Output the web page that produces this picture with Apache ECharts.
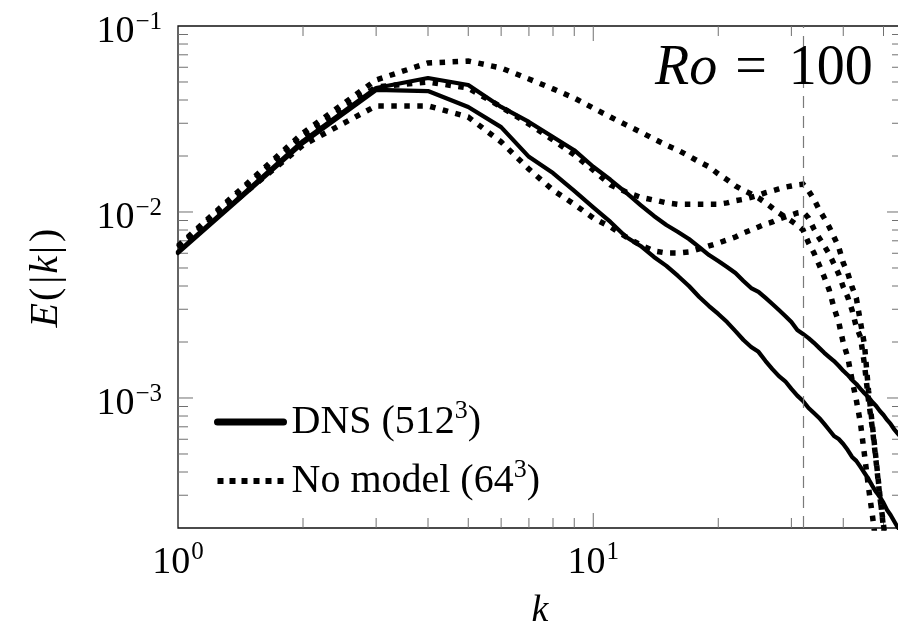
<!DOCTYPE html>
<html>
<head>
<meta charset="utf-8">
<script src="https://cdn.jsdelivr.net/npm/echarts@6/dist/echarts.min.js"></script>
<style>
  html, body { margin: 0; padding: 0; background: #ffffff; }
  #chart { width: 898px; height: 630px; }
</style>
</head>
<body>
<div id="chart"></div>
<script>
// Energy spectra E(|k|), one value per integer wavenumber k = 1, 2, 3, ...
const dnsA = [
  0.00610, 0.0241, 0.0464, 0.0525, 0.0482, 0.0367, 0.0305, 0.0253, 0.0215, 0.0175,
  0.0149, 0.0127, 0.0109, 0.00952, 0.00851, 0.00781, 0.00716, 0.00648, 0.00587, 0.00545,
  0.00506, 0.00470, 0.00426, 0.00390, 0.00372, 0.00345, 0.00320, 0.00297, 0.00276, 0.00256,
  0.00232, 0.00221, 0.00210, 0.00198, 0.00186, 0.00175, 0.00166, 0.00158, 0.00149, 0.00140,
  0.00133, 0.00125, 0.00119, 0.00112, 0.00106, 0.00101, 0.000952, 0.000906, 0.000851, 0.000810,
  0.000762, 0.000725, 0.000681, 0.000648, 0.000617
];
const dnsB = [
  0.00602, 0.0235, 0.0453, 0.0447, 0.0367, 0.0286, 0.0198, 0.0162, 0.0130, 0.0106,
  0.00884, 0.00734, 0.00657, 0.00573, 0.00513, 0.00453, 0.00400, 0.00349, 0.00312, 0.00283,
  0.00256, 0.00229, 0.00205, 0.00188, 0.00177, 0.00158, 0.00143, 0.00131, 0.00123, 0.00112,
  0.00103, 0.000964, 0.000884, 0.000831, 0.000781, 0.000725, 0.000673, 0.000625, 0.000602, 0.000566,
  0.000525, 0.000482, 0.000459, 0.000426, 0.000395, 0.000367, 0.000337, 0.000312, 0.000294, 0.000273,
  0.000250, 0.000235, 0.000218, 0.000203, 0.000193
];
const noModelA = [
  0.00657, 0.0266, 0.0513, 0.0633, 0.0648, 0.0595, 0.0519, 0.0459, 0.0410, 0.0362,
  0.0324, 0.0294, 0.0269, 0.0247, 0.0229, 0.0215, 0.0200, 0.0186, 0.0175, 0.0160,
  0.0149, 0.0138, 0.0131, 0.0125, 0.0119, 0.0112, 0.0105, 0.00988, 0.00940, 0.00895,
  0.00851, 0.00800, 0.00681, 0.00602, 0.00519, 0.00447, 0.00381, 0.00305, 0.00256, 0.00198,
  0.00166, 0.00125, 0.000975, 0.000734, 0.000494, 0.000332, 0.000235, 0.000162
];
const noModelB = [
  0.00648, 0.0256, 0.0470, 0.0500, 0.0464, 0.0367, 0.0297, 0.0244, 0.0203, 0.0168,
  0.0140, 0.0128, 0.0120, 0.0116, 0.0112, 0.0110, 0.0110, 0.0110, 0.0110, 0.0110,
  0.0112, 0.0115, 0.0117, 0.0120, 0.0123, 0.0127, 0.0130, 0.0133, 0.0136, 0.0138,
  0.0140, 0.0141, 0.0130, 0.0117, 0.0103, 0.00928, 0.00831, 0.00734, 0.00648, 0.00532,
  0.00470, 0.00395, 0.00345, 0.00256, 0.00193, 0.00110, 0.000716, 0.000464, 0.000301, 0.000200,
  0.000135
];
const noModelC = [
  0.00641, 0.0229, 0.0372, 0.0372, 0.0324, 0.0238, 0.0170, 0.0131, 0.0110, 0.00928,
  0.00831, 0.00734, 0.00665, 0.00617, 0.00602, 0.00602, 0.00610, 0.00633, 0.00657, 0.00681,
  0.00707, 0.00734, 0.00771, 0.00800, 0.00831, 0.00862, 0.00884, 0.00917, 0.00940, 0.00964,
  0.00988, 0.0100, 0.00928, 0.00810, 0.00725, 0.00657, 0.00595, 0.00525, 0.00464, 0.00395,
  0.00349, 0.00297, 0.00241, 0.00213, 0.00151, 0.000975, 0.000690, 0.000453, 0.000294, 0.000208,
  0.000143
];

// Axis ranges and tick values
const kMin = 1, kMax = 55.4;
const eMin = 2e-4, eMax = 0.1;
const cutoffK = 32;
const xMajorTicks = [10];
const xMinorTicks = [2, 3, 4, 5, 6, 7, 8, 9, 20, 30, 40, 50];
const yMajorTicks = [1e-3, 1e-2];
const yMinorTicks = [3e-4, 4e-4, 5e-4, 6e-4, 7e-4, 8e-4, 9e-4,
                     2e-3, 3e-3, 4e-3, 5e-3, 6e-3, 7e-3, 8e-3, 9e-3,
                     2e-2, 3e-2, 4e-2, 5e-2, 6e-2, 7e-2, 8e-2, 9e-2];

const DNS_NAME = 'DNS (512³)';
const NM_NAME = 'No model (64³)';
const serif = "'Liberation Serif', 'DejaVu Serif', 'Times New Roman', serif";

const toPairs = arr => arr.map((v, i) => [i + 1, v]);

function powLabel(v) {
  const e = Math.log10(v);
  const r = Math.round(e);
  if (Math.abs(e - r) > 1e-6) return '';
  return '{b|10}{s|' + (r < 0 ? '\u2212' + (-r) : String(r)) + '}';
}
const powRich = {
  b: { fontFamily: serif, fontSize: 38, color: '#000', verticalAlign: 'bottom', lineHeight: 38 },
  s: { fontFamily: serif, fontSize: 25, color: '#000', verticalAlign: 'bottom', padding: [0, 0, 17, 1] }
};

// Inward ticks on all four sides of the frame
function tickSeries(vals, dim, len) {
  return {
    type: 'custom',
    silent: true,
    clip: false,
    z: 1,
    data: vals.map(v => dim === 'x' ? [v, eMax] : [kMin, v]),
    renderItem(params, api) {
      const cs = params.coordSys;
      const st = { stroke: '#707070', lineWidth: 1 };
      if (dim === 'x') {
        const x = api.coord([api.value(0), eMax])[0];
        return { type: 'group', children: [
          { type: 'line', shape: { x1: x, y1: cs.y + cs.height, x2: x, y2: cs.y + cs.height - len }, style: st },
          { type: 'line', shape: { x1: x, y1: cs.y, x2: x, y2: cs.y + len }, style: st }
        ]};
      }
      const y = api.coord([kMin, api.value(1)])[1];
      return { type: 'group', children: [
        { type: 'line', shape: { x1: cs.x, y1: y, x2: cs.x + len, y2: y }, style: st },
        { type: 'line', shape: { x1: cs.x + cs.width, y1: y, x2: cs.x + cs.width - len, y2: y }, style: st }
      ]};
    }
  };
}

const solid = { color: '#000', width: 4.2, type: 'solid', cap: 'round', join: 'round' };
const dotted = { color: '#000', width: 5.5, type: [5.5, 7.5], cap: 'butt', join: 'miter' };

function spectrum(name, arr, style, extra) {
  return Object.assign({
    name: name,
    type: 'line',
    data: toPairs(arr),
    symbol: 'none',
    showSymbol: false,
    smooth: false,
    color: '#000',
    lineStyle: style,
    z: 3
  }, extra || {});
}

const chart = echarts.init(document.getElementById('chart'), null, { renderer: 'canvas' });

chart.setOption({
  animation: false,
  backgroundColor: '#ffffff',
  grid: {
    left: 178, top: 26, right: -4, bottom: 102,
    show: true, borderColor: '#111', borderWidth: 1.3,
    containLabel: false, outerBoundsMode: 'none'
  },
  legend: {
    left: 214, top: 398, orient: 'vertical', padding: 0,
    itemWidth: 66, itemHeight: 14, itemGap: 13,
    selectedMode: false,
    data: [
      { name: DNS_NAME, itemStyle: { opacity: 0 }, lineStyle: { width: 7, type: 'solid', color: '#000' } },
      { name: NM_NAME, itemStyle: { opacity: 0 }, lineStyle: { width: 6, type: [6, 6], color: '#000', cap: 'butt' } }
    ],
    formatter: name => name.replace('³', '{s|3}'),
    textStyle: {
      fontFamily: serif, fontSize: 40, color: '#000', lineHeight: 44, padding: [0, 0, 0, 3],
      rich: {
        s: { fontFamily: serif, fontSize: 26, color: '#000', verticalAlign: 'bottom', padding: [0, 0, 20, 0] }
      }
    }
  },
  xAxis: {
    type: 'log', logBase: 10, min: kMin, max: kMax,
    axisLine: { show: false }, axisTick: { show: false }, splitLine: { show: false },
    minorTick: { show: false }, minorSplitLine: { show: false },
    axisLabel: { formatter: powLabel, rich: powRich, margin: 12, color: '#000' },
    name: 'k', nameLocation: 'middle', nameGap: 64,
    nameTextStyle: { fontFamily: serif, fontStyle: 'italic', fontSize: 38, color: '#000' }
  },
  yAxis: {
    type: 'log', logBase: 10, min: eMin, max: eMax,
    axisLine: { show: false }, axisTick: { show: false }, splitLine: { show: false },
    minorTick: { show: false }, minorSplitLine: { show: false },
    axisLabel: { formatter: powLabel, rich: powRich, margin: 16, color: '#000', padding: [9, 0, 0, 0] },
    name: '{i|E}{d|(}{d||}{i|k}{d||}{d|)}', nameLocation: 'middle', nameRotate: 90, nameGap: 112,
    nameTextStyle: {
      fontFamily: serif, fontSize: 40, color: '#000',
      rich: {
        i: { fontFamily: serif, fontStyle: 'italic', fontSize: 40, color: '#000' },
        d: { fontFamily: serif, fontSize: 40, color: '#000', padding: [0, 2, 0, 2] }
      }
    }
  },
  graphic: [{
    type: 'text', x: 655, y: 69, z: 10,
    style: {
      text: '{i|Ro}{e|=}{n|100}',
      align: 'left', verticalAlign: 'middle', fill: '#000',
      rich: {
        i: { fontFamily: serif, fontStyle: 'italic', fontSize: 56, fill: '#000' },
        e: { fontFamily: serif, fontSize: 56, fill: '#000', padding: [0, 22, 0, 18] },
        n: { fontFamily: serif, fontSize: 56, fill: '#000' }
      }
    }
  }],
  series: [
    tickSeries(xMinorTicks, 'x', 10),
    tickSeries(xMajorTicks, 'x', 15),
    tickSeries(yMinorTicks, 'y', 10),
    tickSeries(yMajorTicks, 'y', 15),
    spectrum(DNS_NAME, dnsA, solid, {
      markLine: {
        silent: true, symbol: ['none', 'none'], animation: false,
        label: { show: false },
        lineStyle: { color: '#7a7a7a', width: 1.2, type: [12, 8] },
        emphasis: { disabled: true },
        data: [{ xAxis: cutoffK }]
      }
    }),
    spectrum(DNS_NAME, dnsB, solid),
    spectrum(NM_NAME, noModelA, dotted),
    spectrum(NM_NAME, noModelB, dotted),
    spectrum(NM_NAME, noModelC, dotted)
  ]
});
</script>
</body>
</html>
